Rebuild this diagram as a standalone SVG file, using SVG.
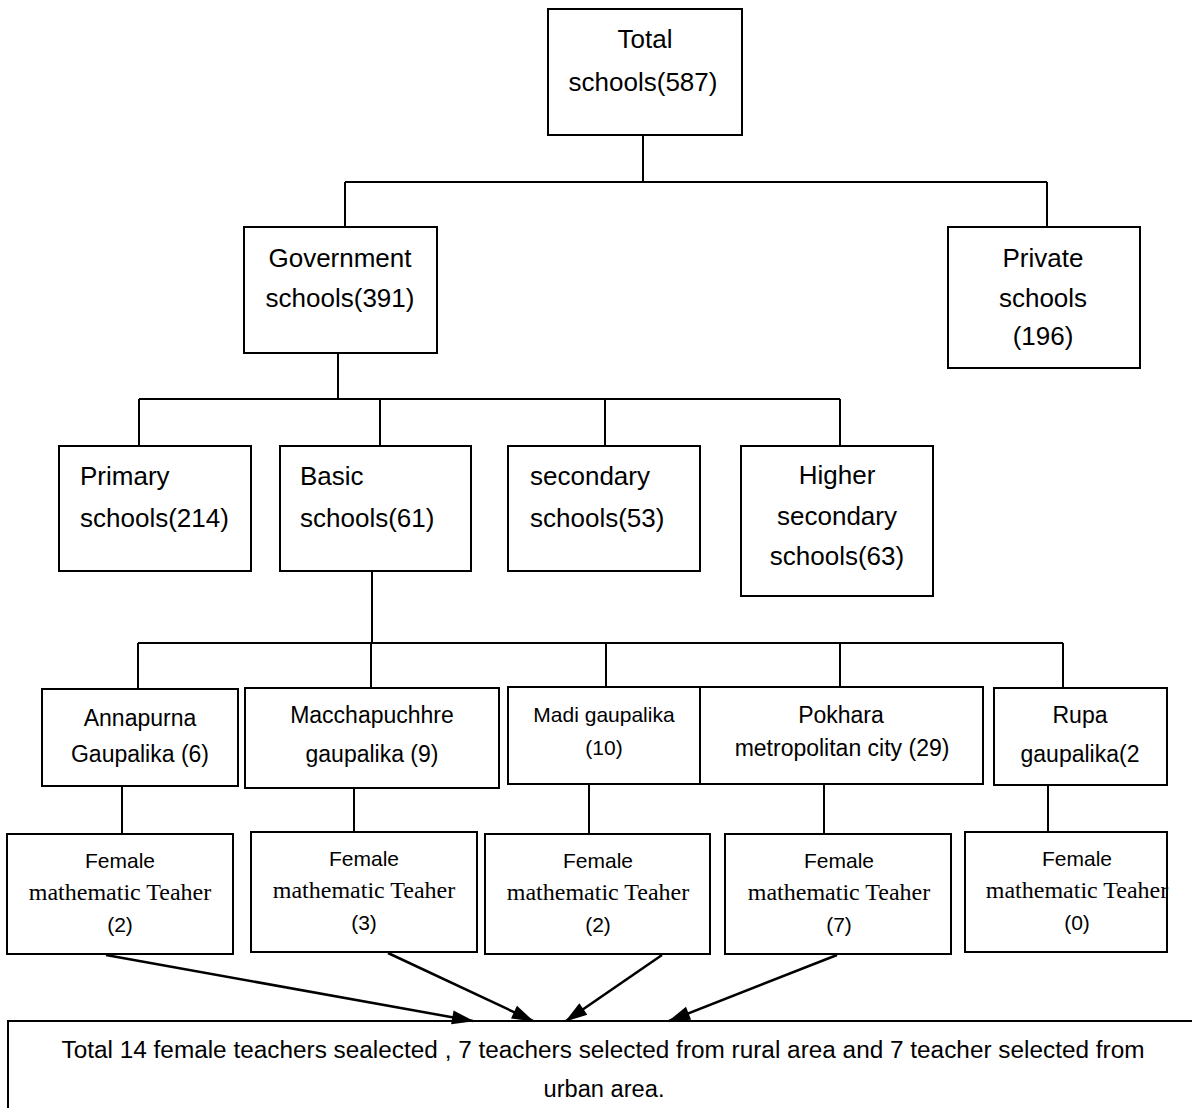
<svg xmlns="http://www.w3.org/2000/svg" width="1192" height="1108" viewBox="0 0 1192 1108">
<style>
.box{fill:#fff;stroke:#000;stroke-width:2}
.ln{fill:none;stroke:#000;stroke-width:2}
.ar{fill:none;stroke:#000;stroke-width:2.5}
text{font-family:"Liberation Sans",Arial,sans-serif;fill:#000}
.t26{font-size:26px}
.t23{font-size:23px}
.t21{font-size:21px}
.serif{font-family:"Liberation Serif","Times New Roman",serif;font-size:24px}
.c{text-anchor:middle}
</style>
<defs>
<marker id="ah" viewBox="0 0 22 14" refX="21" refY="7" markerWidth="22" markerHeight="14" markerUnits="userSpaceOnUse" orient="auto" overflow="visible">
<path d="M0,0 L22,7 L0,14 z" fill="#000"/>
</marker>
</defs>
<rect width="1192" height="1108" fill="#fff"/>
<g id="total"><rect class="box" x="548" y="9" width="194" height="126"/>
<text class="t26 c" x="645" y="48">Total</text><text class="t26 c" x="643" y="91">schools(587)</text></g>
<g id="government"><rect class="box" x="244" y="227" width="193" height="126"/>
<text class="t26 c" x="340" y="267">Government</text><text class="t26 c" x="340" y="307">schools(391)</text></g>
<g id="private"><rect class="box" x="948" y="227" width="192" height="141"/>
<text class="t26 c" x="1043" y="267">Private</text><text class="t26 c" x="1043" y="307">schools</text><text class="t26 c" x="1043" y="345">(196)</text></g>
<g id="primary"><rect class="box" x="59" y="446" width="192" height="125"/>
<text class="t26" x="80" y="485">Primary</text><text class="t26" x="80" y="527">schools(214)</text></g>
<g id="basic"><rect class="box" x="280" y="446" width="191" height="125"/>
<text class="t26" x="300" y="485">Basic</text><text class="t26" x="300" y="527">schools(61)</text></g>
<g id="secondary"><rect class="box" x="508" y="446" width="192" height="125"/>
<text class="t26" x="530" y="485">secondary</text><text class="t26" x="530" y="527">schools(53)</text></g>
<g id="higher"><rect class="box" x="741" y="446" width="192" height="150"/>
<text class="t26 c" x="837" y="484">Higher</text><text class="t26 c" x="837" y="525">secondary</text><text class="t26 c" x="837" y="565">schools(63)</text></g>
<g id="annapurna"><rect class="box" x="42" y="689" width="196" height="97"/>
<text class="t23 c" x="140" y="726">Annapurna</text><text class="t23 c" x="140" y="762">Gaupalika (6)</text></g>
<g id="macchapuchhre"><rect class="box" x="245" y="688" width="254" height="100"/>
<text class="t23 c" x="372" y="723">Macchapuchhre</text><text class="t23 c" x="372" y="762">gaupalika (9)</text></g>
<g id="madi"><rect class="box" x="508" y="687" width="192" height="97"/>
<text class="t21 c" x="604" y="722">Madi gaupalika</text><text class="t21 c" x="604" y="755">(10)</text></g>
<g id="pokhara"><rect class="box" x="700" y="687" width="283" height="97"/>
<text class="t23 c" x="841" y="723">Pokhara</text><text class="t23 c" x="842" y="756">metropolitan city (29)</text></g>
<g id="rupa"><rect class="box" x="994" y="688" width="173" height="97"/>
<text class="t23 c" x="1080" y="723">Rupa</text><text class="t23 c" x="1080" y="762">gaupalika(2</text></g>
<g id="fmt1"><rect class="box" x="7" y="834" width="226" height="120"/>
<text class="t21 c" x="120" y="868">Female</text><text class="serif c" x="120" y="900">mathematic Teaher</text><text class="t21 c" x="120" y="932">(2)</text></g>
<g id="fmt2"><rect class="box" x="251" y="832" width="226" height="120"/>
<text class="t21 c" x="364" y="866">Female</text><text class="serif c" x="364" y="898">mathematic Teaher</text><text class="t21 c" x="364" y="930">(3)</text></g>
<g id="fmt3"><rect class="box" x="485" y="834" width="225" height="120"/>
<text class="t21 c" x="598" y="868">Female</text><text class="serif c" x="598" y="900">mathematic Teaher</text><text class="t21 c" x="598" y="932">(2)</text></g>
<g id="fmt4"><rect class="box" x="725" y="834" width="226" height="120"/>
<text class="t21 c" x="839" y="868">Female</text><text class="serif c" x="839" y="900">mathematic Teaher</text><text class="t21 c" x="839" y="932">(7)</text></g>
<g id="fmt5"><rect class="box" x="965" y="832" width="202" height="120"/>
<text class="t21 c" x="1077" y="866">Female</text><text class="serif c" x="1077" y="898">mathematic Teaher</text><text class="t21 c" x="1077" y="930">(0)</text></g>
<g id="summary"><rect class="box" x="8" y="1021" width="1200" height="110"/>
<text class="t23 c" x="603" y="1058" textLength="1083" lengthAdjust="spacingAndGlyphs">Total 14 female teachers sealected , 7 teachers selected from rural area and 7 teacher selected from</text>
<text class="t23 c" x="604" y="1097" textLength="121" lengthAdjust="spacingAndGlyphs">urban area.</text></g>
<g id="connectors">
<path class="ln" d="M643,136 V182 M345,182 H1047 M345,182 V226 M1047,182 V226"/>
<path class="ln" d="M338,354 V399 M139,399 H840 M139,399 V445 M380,399 V445 M605,399 V445 M840,399 V445"/>
<path class="ln" d="M372,572 V643 M138,643 H1063 M138,643 V688 M371,643 V687 M606,643 V686 M840,643 V686 M1063,643 V687"/>
<path class="ln" d="M122,787 V833 M354,789 V831 M589,785 V833 M824,785 V833 M1048,786 V831"/>
<line class="ar" x1="106" y1="955" x2="473" y2="1021" marker-end="url(#ah)"/>
<line class="ar" x1="388" y1="953" x2="533" y2="1021" marker-end="url(#ah)"/>
<line class="ar" x1="662" y1="955" x2="566" y2="1021" marker-end="url(#ah)"/>
<line class="ar" x1="837" y1="955" x2="669" y2="1021" marker-end="url(#ah)"/>
</g>
</svg>
